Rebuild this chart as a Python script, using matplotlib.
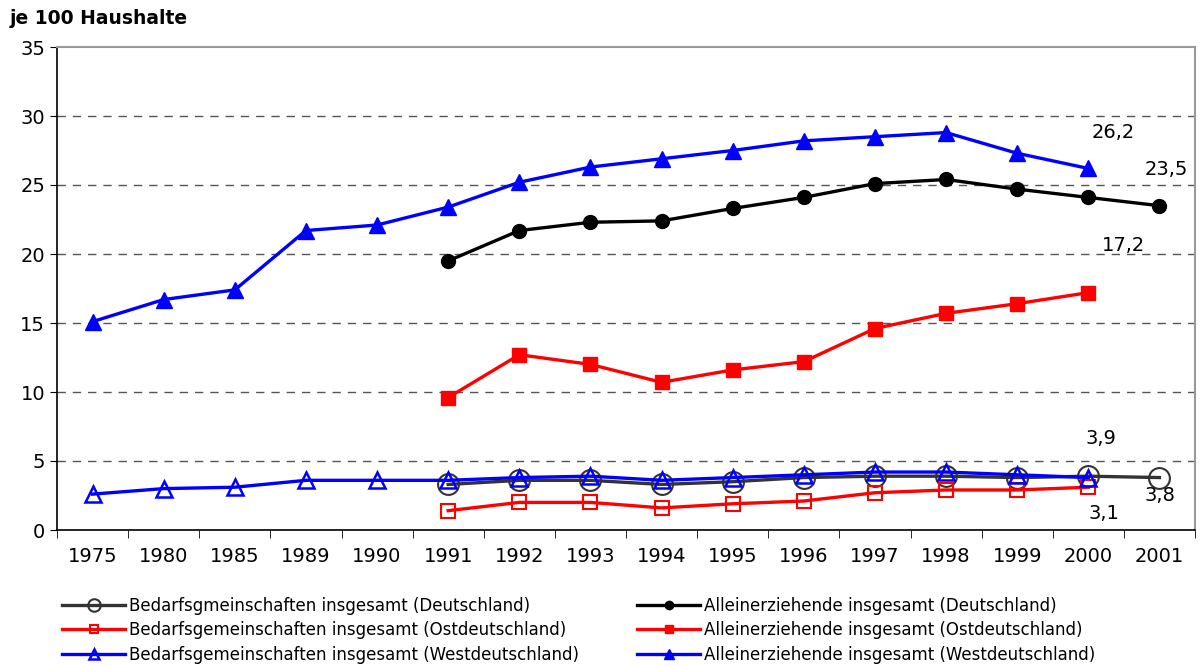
import numpy as np
import matplotlib
matplotlib.use("Agg")
import matplotlib.pyplot as plt

years = ['1975', '1980', '1985', '1989', '1990', '1991', '1992', '1993',
         '1994', '1995', '1996', '1997', '1998', '1999', '2000', '2001']
nan = np.nan

# Bedarfsgemeinschaften insgesamt
bg_de = [nan, nan, nan, nan, nan, 3.3, 3.6, 3.6, 3.3, 3.5, 3.8, 3.9, 3.9, 3.8, 3.9, 3.8]
bg_ost = [nan, nan, nan, nan, nan, 1.4, 2.0, 2.0, 1.6, 1.9, 2.1, 2.7, 2.9, 2.9, 3.1, nan]
bg_west = [2.6, 3.0, 3.1, 3.6, 3.6, 3.6, 3.8, 3.9, 3.6, 3.8, 4.0, 4.2, 4.2, 4.0, 3.8, nan]

# Alleinerziehende insgesamt
ae_de = [nan, nan, nan, nan, nan, 19.5, 21.7, 22.3, 22.4, 23.3, 24.1, 25.1, 25.4, 24.7, 24.1, 23.5]
ae_ost = [nan, nan, nan, nan, nan, 9.6, 12.7, 12.0, 10.7, 11.6, 12.2, 14.6, 15.7, 16.4, 17.2, nan]
ae_west = [15.1, 16.7, 17.4, 21.7, 22.1, 23.4, 25.2, 26.3, 26.9, 27.5, 28.2, 28.5, 28.8, 27.3, 26.2, nan]

x = np.arange(len(years))

fig = plt.figure(figsize=(12, 6.66), dpi=100)
ax = fig.add_axes([57 / 1200, 1 - 530 / 666, (1195 - 57) / 1200, (530 - 47) / 666])

lw = 2.4
ax.plot(x, bg_de, color='#333333', lw=lw, marker='o', ms=15, mfc='none', mew=1.5,
        label='Bedarfsgmeinschaften insgesamt (Deutschland)', zorder=3)
ax.plot(x, bg_ost, color='#ff0000', lw=lw, marker='s', ms=10, mfc='none', mew=1.5,
        label='Bedarfsgemeinschaften insgesamt (Ostdeutschland)', zorder=3)
ax.plot(x, bg_west, color='#0000ff', lw=lw, marker='^', ms=12, mfc='none', mew=1.8,
        label='Bedarfsgemeinschaften insgesamt (Westdeutschland)', zorder=3)
ax.plot(x, ae_de, color='black', lw=lw, marker='o', ms=10,
        label='Alleinerziehende insgesamt (Deutschland)', zorder=3)
ax.plot(x, ae_ost, color='#ff0000', lw=lw, marker='s', ms=10,
        label='Alleinerziehende insgesamt (Ostdeutschland)', zorder=3)
ax.plot(x, ae_west, color='#0000ff', lw=lw, marker='^', ms=12,
        label='Alleinerziehende insgesamt (Westdeutschland)', zorder=3)

ax.set_xlim(-0.5, len(years) - 0.5)
ax.set_ylim(0, 35)
ax.set_yticks(range(0, 36, 5))
ax.tick_params(axis='y', labelsize=14, length=5, direction='out')
ax.set_xticks(x)
ax.set_xticklabels(years, fontsize=14)
ax.set_xticks(np.arange(-0.5, len(years), 1), minor=True)
ax.tick_params(axis='x', which='major', length=0, pad=12)
ax.tick_params(axis='x', which='minor', length=6, direction='out')

for v in range(5, 35, 5):
    ax.axhline(v, color='#555555', lw=1, ls=(0, (6, 5)), zorder=1)

for s in ['top', 'right']:
    ax.spines[s].set_color('#999999')
    ax.spines[s].set_linewidth(1.5)
for s in ['left', 'bottom']:
    ax.spines[s].set_color('black')
    ax.spines[s].set_linewidth(1.2)

annots = [('26,2', 14, 26.2, 18, 26), ('23,5', 15, 23.5, 5, 26),
          ('17,2', 14, 17.2, 25, 34), ('3,9', 14, 3.9, 9, 27),
          ('3,8', 15, 3.8, 0, -13), ('3,1', 14, 3.1, 11, -19)]
for txt, xi, yv, dx, dy in annots:
    ax.annotate(txt, xy=(xi, yv), xytext=(dx, dy), textcoords='offset points',
                ha='center', va='center', fontsize=14)

fig.text(10 / 1200, 1 - 19 / 666, 'je 100 Haushalte', fontsize=13.5, fontweight='bold',
         ha='left', va='center')

fig.legend(loc='upper left', bbox_to_anchor=(62 / 1200, 1 - 597 / 666), ncol=2,
           frameon=False, fontsize=12, handlelength=3.8, handletextpad=0.2,
           columnspacing=3.5, labelspacing=0.38, borderpad=0, borderaxespad=0,
           markerscale=0.6)

fig.savefig('out.png', dpi=100)
